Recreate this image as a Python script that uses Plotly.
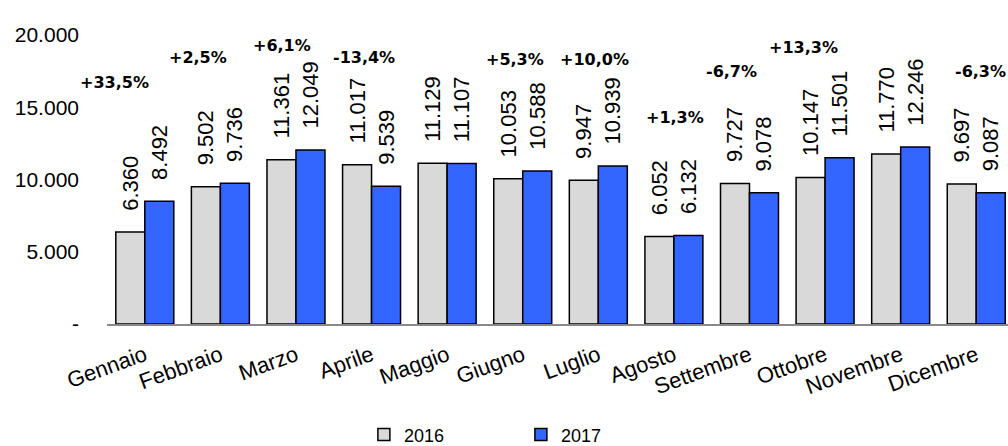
import plotly.graph_objects as go

months = ["Gennaio", "Febbraio", "Marzo", "Aprile", "Maggio", "Giugno",
          "Luglio", "Agosto", "Settembre", "Ottobre", "Novembre", "Dicembre"]
values_2016 = [6360, 9502, 11361, 11017, 11129, 10053, 9947, 6052, 9727, 10147, 11770, 9697]
values_2017 = [8492, 9736, 12049, 9539, 11107, 10588, 10939, 6132, 9078, 11501, 12246, 9087]
y_tick_vals = [0, 5000, 10000, 15000, 20000]
y_tick_text = ["-", "5.000", "10.000", "15.000", "20.000"]

# layout placement of the percentage labels (manually placed in the original)
pct_label_y = [16700, 18450, 19300, 18450, 20800, 18300, 18300, 14300, 17500, 19150, 20800, 17500]
pct_label_xshift = [-30, -22, -14, -8, -6, -8, -4, 1, -18, -22, -3, 4]

GREY = "#D9D9D9"
BLUE = "#3366FF"
FONT = "Liberation Sans, Arial, sans-serif"
GAP = "\u00a0\u00a0\u00a0"  # spacing between bar top and rotated value label


def it_num(v):
    return f"{v:,.0f}".replace(",", ".")


def pct_text(a, b):
    p = (b - a) / a * 100
    return f"{p:+.1f}%".replace(".", ",")


fig = go.Figure()
for name, vals, col in (("2016", values_2016, GREY), ("2017", values_2017, BLUE)):
    fig.add_trace(go.Bar(
        x=months, y=vals, name=name,
        marker=dict(color=col, line=dict(color="#000000", width=1.5)),
        text=[GAP + it_num(v) for v in vals], texttemplate="%{text}",
        textposition="outside", textangle=-90, constraintext="none",
        cliponaxis=False,
        textfont=dict(family=FONT, size=22, color="#000000"),
        hoverinfo="x+y",
    ))

for i, m in enumerate(months):
    fig.add_annotation(
        x=m, y=pct_label_y[i], xref="x", yref="y",
        text="<b>" + pct_text(values_2016[i], values_2017[i]) + "</b>",
        showarrow=False, xshift=pct_label_xshift[i],
        font=dict(family="DejaVu Sans, Verdana, sans-serif", size=16, color="#000000"),
    )

fig.update_layout(
    width=1008, height=446,
    margin=dict(l=107, r=0, t=35, b=122),
    paper_bgcolor="white", plot_bgcolor="white",
    separators=",.",
    barmode="group", bargap=0.233, bargroupgap=0,
    showlegend=True,
    legend=dict(
        orientation="h", x=0.361, y=0.025, xref="container", yref="container",
        xanchor="left", yanchor="middle",
        font=dict(family=FONT, size=18, color="#000000"),
        entrywidth=112, itemwidth=30,
    ),
    font=dict(family=FONT, color="#000000"),
)
fig.update_xaxes(
    range=[-0.5, 11.42], tickangle=-20, showgrid=False,
    showline=True, linecolor="#888888", linewidth=2,
    ticks="", ticklabelstandoff=8,
    tickfont=dict(family=FONT, size=22, color="#000000"),
)
fig.update_yaxes(
    range=[0, 20000], tickvals=y_tick_vals, ticktext=y_tick_text,
    showgrid=False, zeroline=False, showline=False, ticks="",
    ticklabelstandoff=27,
    tickfont=dict(family=FONT, size=21, color="#000000"),
)

fig.write_html(
    "out.html",
    config={"displayModeBar": False},
    post_script="document.body.style.margin='0px';document.body.style.overflow='hidden';",
)
